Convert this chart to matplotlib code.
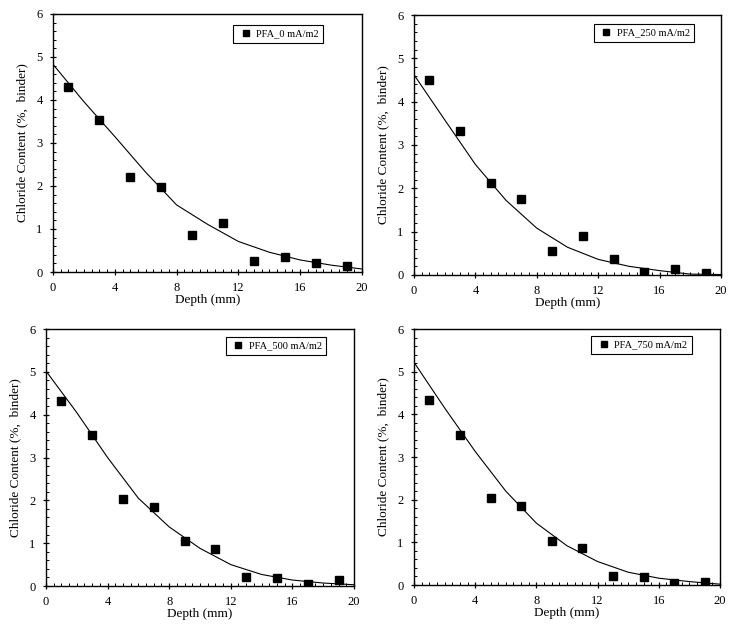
import matplotlib
matplotlib.use("Agg")
import matplotlib.pyplot as plt
from matplotlib.ticker import MultipleLocator

# ---- data ----
depth = [1, 3, 5, 7, 9, 11, 13, 15, 17, 19]
cl_0 = [4.30, 3.53, 2.22, 1.98, 0.86, 1.15, 0.25, 0.36, 0.21, 0.13]
cl_250 = [4.51, 3.33, 2.13, 1.75, 0.55, 0.90, 0.36, 0.08, 0.13, 0.05]
cl_500 = [4.33, 3.52, 2.04, 1.85, 1.04, 0.86, 0.20, 0.19, 0.05, 0.15]
cl_750 = [4.33, 3.52, 2.04, 1.85, 1.04, 0.86, 0.21, 0.19, 0.05, 0.08]

fit_depth = [0, 2, 4, 6, 8, 10, 12, 14, 16, 18, 20]
fit_0 = [4.83, 3.96, 3.15, 2.32, 1.56, 1.11, 0.71, 0.46, 0.28, 0.16, 0.07]
fit_250 = [4.62, 3.58, 2.55, 1.72, 1.08, 0.64, 0.36, 0.20, 0.10, 0.02, 0.01]
fit_500 = [5.02, 4.05, 3.00, 2.05, 1.38, 0.88, 0.50, 0.27, 0.14, 0.07, 0.03]
fit_750 = [5.22, 4.15, 3.13, 2.20, 1.45, 0.92, 0.55, 0.30, 0.16, 0.08, 0.02]

labels = ["PFA_0 mA/m2", "PFA_250 mA/m2", "PFA_500 mA/m2", "PFA_750 mA/m2"]
x_ticks = [0, 4, 8, 12, 16, 20]
y_ticks = [0, 1, 2, 3, 4, 5, 6]
x_label = "Depth (mm)"
y_label = "Chloride Content (%,  binder)"

plt.rcParams["font.family"] = ["Liberation Serif", "DejaVu Serif"]

fig = plt.figure(figsize=(7.32, 6.33), dpi=100)

positions = [
    [0.0724, 0.5703, 0.4221, 0.4076],
    [0.5656, 0.5656, 0.4194, 0.4107],
    [0.0628, 0.0742, 0.4208, 0.4060],
    [0.5656, 0.0758, 0.4180, 0.4044],
]
legend_anchor = [(0.583, 0.957), (0.586, 0.965), (0.584, 0.969), (0.580, 0.973)]

series = [(cl_0, fit_0), (cl_250, fit_250), (cl_500, fit_500), (cl_750, fit_750)]

for pos, (pts, fit), lab, anc in zip(positions, series, labels, legend_anchor):
    ax = fig.add_axes(pos)
    ax.plot(fit_depth, fit, color="black", lw=0.8, zorder=2)
    ax.plot(depth, pts, linestyle="none", marker="s", markersize=5.4,
            color="black", label=lab, zorder=3)
    ax.set_xlim(0, 20)
    ax.set_ylim(0, 6)
    ax.set_xticks(x_ticks)
    ax.set_yticks(y_ticks)
    ax.xaxis.set_minor_locator(MultipleLocator(0.5))
    ax.yaxis.set_minor_locator(MultipleLocator(0.2))
    ax.tick_params(which="major", direction="inout", length=5, width=0.9,
                   labelsize=9, pad=5, top=False, right=False)
    ax.tick_params(which="minor", direction="in", length=2, width=0.7,
                   top=False, right=False)
    for sp in ax.spines.values():
        sp.set_linewidth(1.0)
    ax.set_xlabel(x_label, fontsize=9.5, labelpad=0)
    ax.set_ylabel(y_label, fontsize=9.5, labelpad=6)
    leg = ax.legend(loc="upper left", bbox_to_anchor=anc, frameon=True,
                    fancybox=False, edgecolor="black", framealpha=1,
                    fontsize=7.5, handlelength=1.6, handletextpad=0.2,
                    borderpad=0.4, markerscale=0.8, borderaxespad=0)
    leg.get_frame().set_linewidth(0.8)

fig.savefig("out.png", dpi=100)
